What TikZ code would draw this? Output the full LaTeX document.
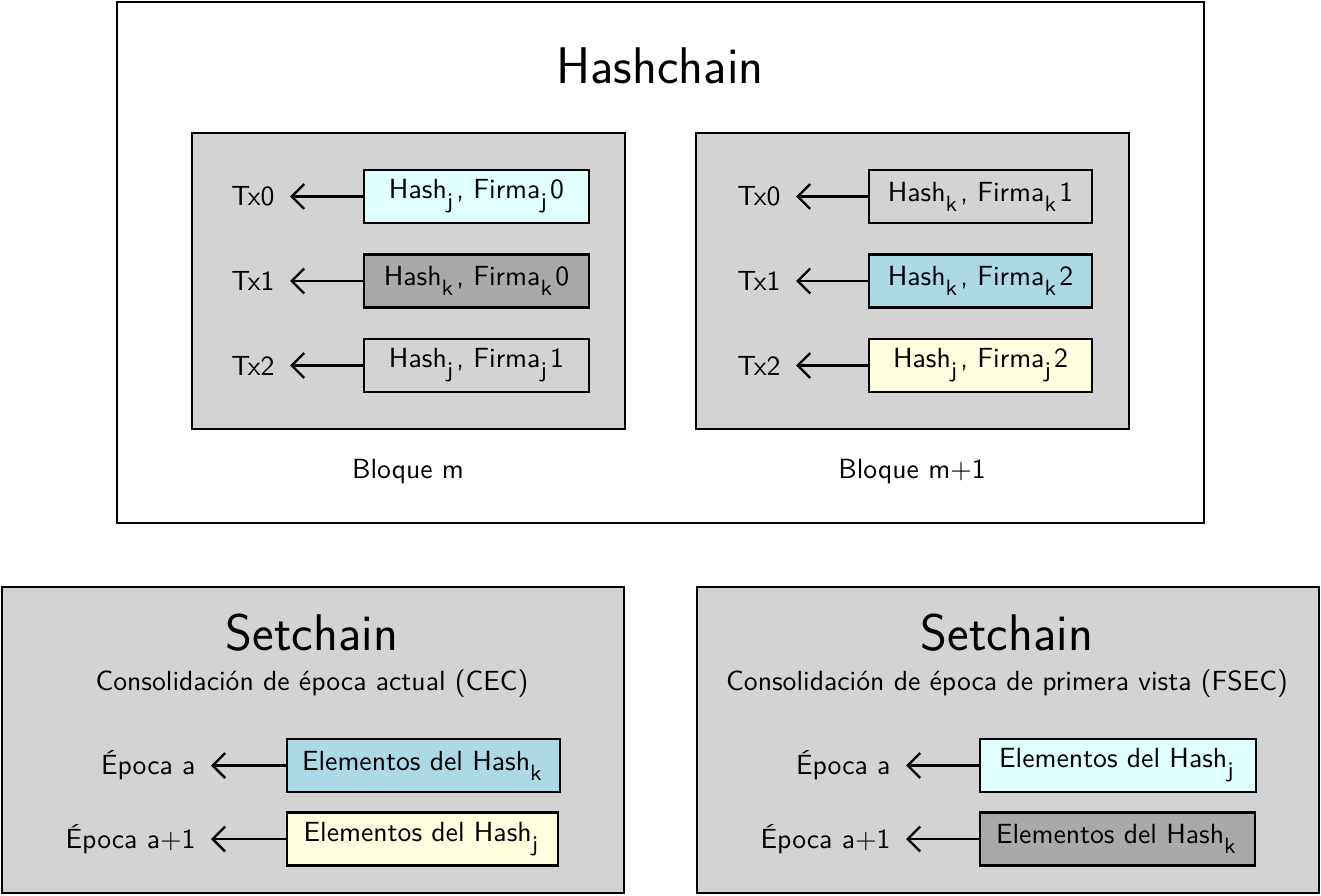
\documentclass[tikz,border=0pt]{standalone}
\usetikzlibrary{arrows.meta}
\renewcommand{\familydefault}{\sfdefault}
\definecolor{cgray}{RGB}{211,211,211}
\definecolor{cdark}{RGB}{169,169,169}
\definecolor{ccyan}{RGB}{224,255,255}
\definecolor{cblue}{RGB}{173,216,230}
\definecolor{cyell}{RGB}{255,255,224}
\newcommand{\sub}[1]{\raisebox{-3.6pt}{\footnotesize #1}\kern1.2pt}
\begin{document}
\begin{tikzpicture}[x=0.361pt,y=-0.361pt,
  frame/.style={draw=black,line width=0.8pt,inner sep=0pt},
  item/.style={draw=black,line width=0.8pt,inner sep=0pt,minimum height=53*0.361pt},
  lab/.style={anchor=east,inner sep=5.4pt},
  ttl/.style={font=\fontsize{18.6}{22}\selectfont},
  arr/.style={-{Straight Barb[length=4.5pt,width=9pt,line width=0.85pt]},line width=0.8pt}]
\useasboundingbox (0,0) rectangle (1321,896);
% outer hashchain
\node[frame,fill=white,minimum width=1087*0.361pt,minimum height=521*0.361pt] (hc) at (660.5,262.5) {};
\node[ttl] (hct) at (660,66) {Hashchain};
% blocks
\node[frame,fill=cgray,minimum width=433*0.361pt,minimum height=296*0.361pt] (bm) at (408.5,281) {};
\node[frame,fill=cgray,minimum width=433*0.361pt,minimum height=296*0.361pt] (bm1) at (912.5,281) {};
\node (bml) at (408,472) {Bloque m};
\node (bm1l) at (912,472) {Bloque m+1};
% block m items
\node[item,fill=ccyan,minimum width=225*0.361pt] (a0) at (476.5,196.5) {Hash\sub{j}, Firma\sub{j}0};
\node[item,fill=cdark,minimum width=225*0.361pt] (a1) at (476.5,281) {Hash\sub{k}, Firma\sub{k}0};
\node[item,minimum width=225*0.361pt] (a2) at (476.5,365.5) {Hash\sub{j}, Firma\sub{j}1};
\node[lab] (ta0) at (290,196.5) {Tx0};
\node[lab] (ta1) at (290,281) {Tx1};
\node[lab] (ta2) at (290,365.5) {Tx2};
\draw[arr] (a0.west) -- (ta0.east);
\draw[arr] (a1.west) -- (ta1.east);
\draw[arr] (a2.west) -- (ta2.east);
% block m+1 items
\node[item,minimum width=223*0.361pt] (b0) at (980.5,196.5) {Hash\sub{k}, Firma\sub{k}1};
\node[item,fill=cblue,minimum width=223*0.361pt] (b1) at (980.5,281) {Hash\sub{k}, Firma\sub{k}2};
\node[item,fill=cyell,minimum width=223*0.361pt] (b2) at (980.5,365.5) {Hash\sub{j}, Firma\sub{j}2};
\node[lab] (tb0) at (796,196.5) {Tx0};
\node[lab] (tb1) at (796,281) {Tx1};
\node[lab] (tb2) at (796,365.5) {Tx2};
\draw[arr] (b0.west) -- (tb0.east);
\draw[arr] (b1.west) -- (tb1.east);
\draw[arr] (b2.west) -- (tb2.east);
% setchain left
\node[frame,fill=cgray,minimum width=622*0.361pt,minimum height=306*0.361pt] (sl) at (313,740) {};
\node[ttl] (slt) at (312,633) {Setchain};
\node (sls) at (312,684) {Consolidación de época actual (CEC)};
\node[item,fill=cblue,minimum width=273*0.361pt] (c0) at (423.5,765.5) {Elementos del Hash\sub{k}};
\node[item,fill=cyell,minimum width=271*0.361pt] (c1) at (422.5,839) {Elementos del Hash\sub{j}};
\node[lab] (tc0) at (211,765.5) {Época a};
\node[lab] (tc1) at (211,839) {Época a+1};
\draw[arr] (c0.west) -- (tc0.east);
\draw[arr] (c1.west) -- (tc1.east);
% setchain right
\node[frame,fill=cgray,minimum width=622*0.361pt,minimum height=306*0.361pt] (sr) at (1008,740) {};
\node[ttl] (srt) at (1007,633) {Setchain};
\node (srs) at (1007,684) {Consolidación de época de primera vista (FSEC)};
\node[item,fill=ccyan,minimum width=276*0.361pt] (d0) at (1118,765.5) {Elementos del Hash\sub{j}};
\node[item,fill=cdark,minimum width=275*0.361pt] (d1) at (1117.5,839) {Elementos del Hash\sub{k}};
\node[lab] (td0) at (906,765.5) {Época a};
\node[lab] (td1) at (906,839) {Época a+1};
\draw[arr] (d0.west) -- (td0.east);
\draw[arr] (d1.west) -- (td1.east);
\end{tikzpicture}
\end{document}
